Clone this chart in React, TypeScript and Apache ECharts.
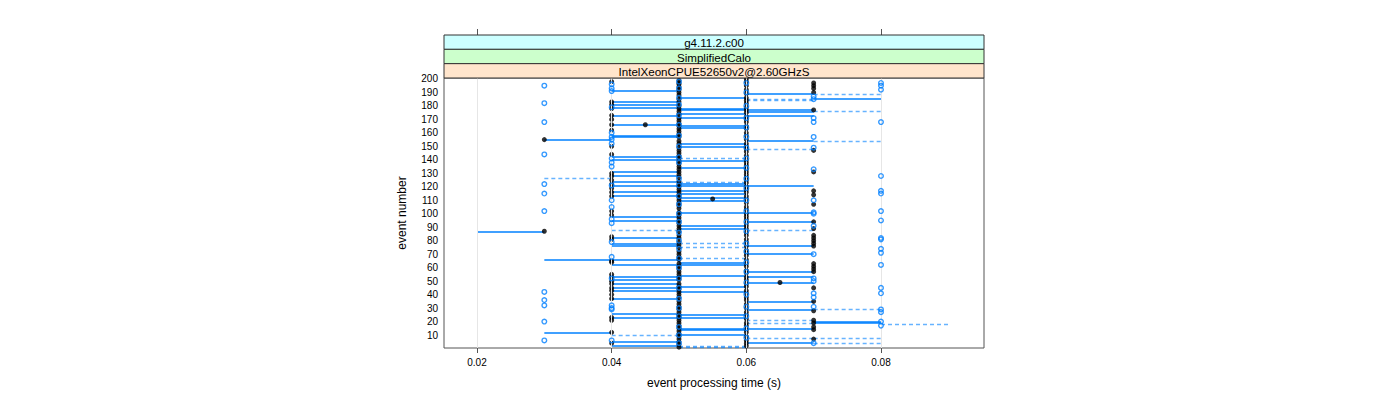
import React, { useEffect, useRef } from 'react';
import * as echarts from 'echarts';

// ---------- text ----------
const stripLabels = ['g4.11.2.c00', 'SimplifiedCalo', 'IntelXeonCPUE52650v2@2.60GHzS'];
const stripColors = ['#CCFFFF', '#CCFFCC', '#FFE5CC'];
const xTicks = [0.02, 0.04, 0.06, 0.08];
const yTicks = [10, 20, 30, 40, 50, 60, 70, 80, 90, 100, 110, 120, 130, 140, 150, 160, 170, 180, 190, 200];
const xRange = [0.0151, 0.0953];
const yRange = [0.4, 200.7];

// ---------- black dots: event numbers at each processing time ----------
const black030 = [155, 87];
const black040 = [198, 183, 181, 178, 173, 170, 166, 162, 150, 144, 130, 128, 125, 122, 119, 116, 113, 102, 99, 83, 81, 65, 64, 55, 53, 50, 48, 45, 43, 40, 37, 23, 21, 12, 4];
const black045 = [166];
const black050 = [199, 197, 196, 194, 192, 190, 188, 185, 183, 180, 178, 176, 174, 171, 169, 167, 165, 163, 161, 159, 157, 154, 152, 149, 147, 145, 143, 141, 139, 137, 135, 133, 131, 129, 127, 124, 122, 120, 118, 116, 114, 112, 110, 108, 106, 104, 101, 99, 97, 95, 93, 91, 89, 87, 84, 82, 79, 77, 75, 72, 70, 68, 66, 63, 61, 59, 57, 55, 53, 51, 48, 46, 44, 42, 40, 38, 35, 33, 31, 29, 27, 25, 23, 21, 19, 17, 15, 13, 11, 9, 7, 5, 3, 1];
const black055 = [111];
const black060 = [200, 198, 195, 192, 189, 186, 184, 182, 179, 177, 175, 172, 170, 168, 165, 163, 160, 158, 155, 152, 150, 148, 146, 143, 140, 138, 136, 133, 131, 129, 127, 125, 123, 120, 118, 116, 113, 111, 108, 105, 103, 100, 98, 96, 93, 91, 89, 86, 84, 81, 79, 76, 73, 71, 69, 66, 63, 61, 58, 56, 53, 51, 48, 46, 43, 41, 38, 36, 33, 30, 27, 25, 22, 19, 17, 14, 12, 9, 6, 4, 2];
const black065 = [49];
const black070 = [197, 195, 193, 190, 177, 147, 131, 117, 114, 107, 94, 89, 84, 82, 80, 78, 76, 63, 61, 59, 57, 45, 35, 28, 21, 19, 16, 14, 7];

// ---------- blue open circles: event numbers at each processing time ----------
const blue030 = [195, 182, 168, 144, 122, 115, 102, 42, 36, 32, 20, 6];
const blue040 = [196, 193, 191, 179, 160, 157, 155, 152, 141, 138, 135, 121, 110, 105, 96, 93, 79, 68, 52, 32, 30, 29, 6];
const blue050 = [198, 193, 186, 181, 173, 166, 158, 150, 142, 138, 126, 121, 113, 107, 100, 94, 86, 80, 74, 67, 60, 52, 45, 37, 30, 24, 16, 10, 4];
const blue060 = [197, 190, 180, 171, 164, 157, 149, 141, 134, 126, 119, 110, 102, 94, 87, 78, 72, 64, 57, 49, 40, 31, 24, 15, 8];
const blue070 = [187, 185, 171, 168, 157, 149, 133, 110, 101, 100, 91, 70, 52, 50, 41, 38, 31, 4];
const blue080 = [197, 195, 192, 168, 128, 117, 115, 102, 95, 82, 81, 74, 71, 62, 45, 41, 29, 27, 20, 17];

// ---------- solid segments: event numbers joining two processing times ----------
const solid0203 = [87];
const solid0304 = [155, 12];
const solid0305 = [66];
const solid0405 = [191, 183, 181, 179, 173, 166, 158, 157, 142, 140, 131, 128, 124, 121, 116, 113, 98, 95, 82, 78, 76, 62, 53, 51, 48, 45, 43, 37, 26, 23, 5, 2];
const solid0506 = [186, 178, 177, 174, 171, 165, 164, 152, 150, 139, 134, 122, 121, 117, 115, 112, 110, 101, 91, 89, 64, 62, 54, 46, 42, 25, 23, 15, 14, 10];
const solid0607 = [189, 177, 176, 173, 154, 121, 101, 94, 76, 70, 57, 53, 49, 35, 29, 15, 4];
const solid0708 = [185, 20, 19];

// ---------- dashed segments ----------
const dashed0304 = [126];
const dashed0405 = [88, 10];
const dashed0506 = [141, 123, 78, 75, 67, 2, 1];
const dashed0607 = [185, 184, 148, 88, 21, 19, 8];
const dashed0708 = [189, 176, 154, 29, 8, 4];
const dashed0809 = [18];

const blackGroups: [number, number[]][] = [
  [0.03, black030], [0.04, black040], [0.045, black045], [0.05, black050],
  [0.055, black055], [0.06, black060], [0.065, black065], [0.07, black070],
];
const blueGroups: [number, number[]][] = [
  [0.03, blue030], [0.04, blue040], [0.05, blue050], [0.06, blue060], [0.07, blue070], [0.08, blue080],
];
const solidGroups: [number, number, number[]][] = [
  [0.02, 0.03, solid0203], [0.03, 0.04, solid0304], [0.03, 0.05, solid0305], [0.04, 0.05, solid0405],
  [0.05, 0.06, solid0506], [0.06, 0.07, solid0607], [0.07, 0.08, solid0708],
];
const dashedGroups: [number, number, number[]][] = [
  [0.03, 0.04, dashed0304], [0.04, 0.05, dashed0405], [0.05, 0.06, dashed0506],
  [0.06, 0.07, dashed0607], [0.07, 0.08, dashed0708], [0.08, 0.09, dashed0809],
];

const BLUE = '#0080ff';
const FONT = 'Liberation Sans, Arial, sans-serif';

const GRID = { left: 444, top: 78, width: 540, height: 270 };

function pts(groups: [number, number[]][]) {
  const out: number[][] = [];
  groups.forEach(([t, evs]) => evs.forEach((e) => out.push([t, e])));
  return out;
}
function segs(groups: [number, number, number[]][]) {
  const out: any[] = [];
  groups.forEach(([a, b, evs]) => evs.forEach((e) => out.push({ coords: [[a, e], [b, e]] })));
  return out;
}

export default function App() {
  const ref = useRef<HTMLDivElement>(null);
  useEffect(() => {
    if (!ref.current) return;
    const chart = echarts.init(ref.current, undefined, { renderer: 'svg' });
    const stripH = 14.33;
    const stripTop = GRID.top - 3 * stripH;
    const graphics: any[] = [];
    stripLabels.forEach((label, i) => {
      graphics.push({
        type: 'rect',
        shape: { x: GRID.left, y: stripTop + i * stripH, width: GRID.width, height: stripH },
        style: { fill: stripColors[i], stroke: '#333', lineWidth: 1 },
        z: 10,
      });
      graphics.push({
        type: 'text',
        x: GRID.left + GRID.width / 2,
        y: stripTop + i * stripH + stripH / 2 + 0.5,
        style: { text: label, fill: '#000', font: `11.6px ${FONT}`, align: 'center', verticalAlign: 'middle' },
        z: 11,
      });
    });
    chart.setOption({
      animation: false,
      backgroundColor: '#fff',
      textStyle: { fontFamily: FONT },
      grid: { ...GRID, show: true, borderColor: '#555', borderWidth: 1, backgroundColor: 'transparent', containLabel: false },
      xAxis: [
        {
          type: 'value', min: xRange[0], max: xRange[1], position: 'bottom',
          axisLine: { show: false },
          axisTick: { show: true, inside: false, length: 5, lineStyle: { color: '#555' }, customValues: xTicks },
          axisLabel: { show: true, fontSize: 10, color: '#000', margin: 9, customValues: xTicks, formatter: (v: number) => v.toFixed(2) },
          splitLine: { show: false },
          name: 'event processing time (s)', nameLocation: 'middle', nameGap: 29,
          nameTextStyle: { fontSize: 12, color: '#000', fontFamily: FONT },
        },
        {
          type: 'value', min: xRange[0], max: xRange[1], position: 'top', offset: 3 * stripH,
          axisLine: { show: false },
          axisTick: { show: true, inside: false, length: 6, lineStyle: { color: '#555' }, customValues: xTicks },
          axisLabel: { show: false },
          splitLine: { show: false },
        },
      ],
      yAxis: {
        type: 'value', min: yRange[0], max: yRange[1],
        axisLine: { show: false },
        axisTick: { show: false },
        axisLabel: { fontSize: 10, color: '#000', margin: 6, customValues: yTicks },
        splitLine: { show: false },
        name: 'event number', nameLocation: 'middle', nameGap: 36,
        nameTextStyle: { fontSize: 12, color: '#000', fontFamily: FONT },
      },
      graphic: graphics,
      series: [
        {
          type: 'scatter', name: 'grid', data: [], z: 1, silent: true,
          markLine: {
            silent: true, symbol: ['none', 'none'], label: { show: false },
            lineStyle: { color: '#e6e6e6', type: 'solid', width: 1 },
            data: xTicks.map((t) => ({ xAxis: t })),
          },
        },
        {
          type: 'lines', coordinateSystem: 'cartesian2d', name: 'dashed', z: 2, silent: true,
          lineStyle: { color: BLUE, width: 1.3, type: [4, 3], opacity: 0.6 },
          data: segs(dashedGroups),
        },
        {
          type: 'lines', coordinateSystem: 'cartesian2d', name: 'solid', z: 3, silent: true,
          lineStyle: { color: BLUE, width: 1.5, type: 'solid', opacity: 1 },
          data: segs(solidGroups),
        },
        {
          type: 'scatter', name: 'current', z: 4, symbol: 'circle', symbolSize: 5,
          itemStyle: { color: '#000' },
          data: pts(blackGroups),
        },
        {
          type: 'scatter', name: 'reference', z: 5, symbol: 'circle', symbolSize: 4.6,
          itemStyle: { color: 'rgba(0,0,0,0)', borderColor: BLUE, borderWidth: 1.4 },
          data: pts(blueGroups),
        },
      ],
    });
    return () => chart.dispose();
  }, []);
  return <div ref={ref} style={{ position: 'fixed', left: 0, top: 0, width: 1400, height: 400 }} />;
}
